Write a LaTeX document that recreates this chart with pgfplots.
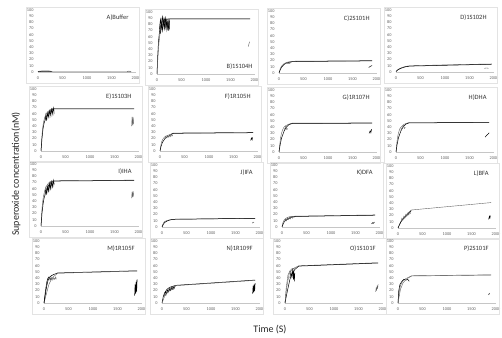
\documentclass[border=0pt]{standalone}
\usepackage{fontspec}
\setmainfont{Carlito}
\usepackage{pgfplots}
\pgfplotsset{compat=1.18}
\pgfplotsset{
  panel/.style={
    scale only axis, width=98pt, height=62pt, anchor=south west,
    xmin=0, xmax=2000, ymin=0, ymax=100,
    xtick={0,500,1000,1500,2000}, ytick={0,10,...,100},
    axis lines=left, axis line style={-},
    x axis line style={gray!45, line width=0.5pt},
    y axis line style={draw=none},
    major tick length=0pt,
    tick label style={font=\fontsize{4.3}{5}\selectfont, text=gray!75!black},
    /pgf/number format/assume math mode=true,
    /pgf/number format/set thousands separator={},
    xticklabel shift=1pt, yticklabel shift=1pt,
    clip=false,
    no markers,
    cycle list={{black!62, line width=0.5pt}},
  },
  band/.style={fill=gray!30, draw=none},
}
\tikzset{lab/.style={font=\fontsize{6.5}{7}\selectfont, text=black!80}}
\newcommand\panel[4]{%
\begin{axis}[panel, at={(#1pt,#2pt)}]
#4
\node[lab, anchor=north east] at (rel axis cs:0.96,0.98) {#3};
\draw[gray!22, line width=0.4pt] ([xshift=-12pt,yshift=-11pt]rel axis cs:0,0) rectangle ([xshift=3pt,yshift=3pt]rel axis cs:1,1);
\end{axis}}
\begin{document}
\begin{tikzpicture}
\path[use as bounding box] (0,0) rectangle (502pt,337pt);
% ---------- Row 1 ----------
\panel{38}{265}{A)Buffer}{
\addplot coordinates {(0,1)(50,1.5)(100,2)(150,2)(200,2)(250,1.5)(300,0.3)(1900,0.3)};
\addplot coordinates {(0,0.5)(100,1)(200,1.2)(280,1)};
\addplot coordinates {(1820,0.5)(1850,1.5)(1880,1)(1900,0.5)};
}
\panel{157}{263}{}{
\addplot[band] coordinates {(50,68)(100,72)(150,72)(200,70)(260,70)(260,88)(200,90)(150,92)(100,92)(50,80)};
\addplot coordinates {(0,0)(15,30)(30,52)(50,68)(75,78)(100,84)(150,87.5)(200,88.5)(280,89)(1900,89)};
\addplot coordinates {(0,0)(20,28)(40,50)(60,64)(80,72)(100,78)(150,85)(200,88)(280,89)(1900,89)};
\addplot coordinates {(50,72)(70,88)(90,78)(110,92)(130,80)(150,88)(170,76)(190,86)(210,74)(230,84)(250,72)(260,86)};
\addplot coordinates {(60,80)(80,70)(100,88)(120,76)(140,90)(160,72)(180,84)(200,70)(220,86)(240,76)(255,80)};
\addplot coordinates {(70,65)(90,82)(110,70)(130,86)(150,74)(170,90)(190,78)(210,84)(230,70)(250,88)};
\addplot coordinates {(1860,44)(1875,48)(1890,52)};
\node[lab, anchor=south east] at (rel axis cs:1.01,0.02) {B)1S104H};
}
\panel{279}{264}{C)2S101H}{
\addplot coordinates {(0,0)(25,7)(50,11)(100,15)(150,17)(200,18)(280,19)(1900,20)};
\addplot coordinates {(0,0)(25,5)(50,9)(100,13.5)(150,16)(200,17)(280,18.5)(1900,19.5)};
\addplot coordinates {(50,10)(100,14)(150,16)(200,15)(250,17)};
\addplot coordinates {(1830,9)(1870,11)(1900,12)};
}
\panel{396}{265}{D)1S102H}{
\addplot coordinates {(0,0)(25,3)(50,4.5)(100,6.5)(150,8)(200,9)(280,10)(1000,11.5)(1950,13)};
\addplot coordinates {(0,1)(50,4)(100,6)(200,8.5)(280,9.5)(1950,12.5)};
\addplot coordinates {(1800,6)(1850,6.5)(1890,6)};
}
% ---------- Row 2 ----------
\panel{41}{186}{E)1S103H}{
\addplot[band] coordinates {(80,48)(270,58)(270,70)(200,68)(100,62)(80,55)};
\addplot[band] coordinates {(1850,40)(1890,42)(1890,55)(1850,55)};
\addplot coordinates {(0,0)(15,20)(30,35)(50,46)(75,54)(100,59)(150,64)(200,67)(270,69)(1900,69)};
\addplot coordinates {(0,0)(20,20)(40,35)(60,44)(100,54)(150,61)(200,65)(270,68)(1900,68)};
\addplot coordinates {(80,50)(100,60)(120,54)(140,63)(160,57)(180,66)(200,60)(220,68)(240,62)(260,70)(270,60)};
\addplot coordinates {(90,56)(110,50)(130,60)(150,55)(170,64)(190,58)(210,67)(230,60)(250,69)(265,64)};
\addplot coordinates {(1850,40)(1860,55)(1870,42)(1880,54)(1890,44)(1870,50)};
}
\panel{160}{186}{F)1R105H}{
\addplot coordinates {(0,0)(15,8)(30,14)(50,18)(75,21)(100,23)(150,25)(200,26.5)(270,29)(1900,30)};
\addplot coordinates {(0,0)(20,7)(50,14)(100,20)(150,23)(200,25)(270,28.5)(1900,29.5)};
\addplot coordinates {(100,20)(120,24)(140,21)(160,25)(180,22)(200,26)(220,23)(240,27)(260,24)};
\addplot coordinates {(1850,17)(1865,21)(1880,18)(1890,22)};
}
\panel{279}{185}{G)1R107H}{
\addplot coordinates {(0,0)(15,12)(30,22)(50,30)(75,36)(100,40)(150,43)(200,45)(270,46.5)(1900,47)};
\addplot coordinates {(0,0)(20,10)(50,22)(100,33)(150,40)(200,44)(270,46)(1900,46.5)};
\addplot coordinates {(100,35)(120,38)(140,42)(150,38)(160,36)(180,38)};
\addplot coordinates {(1840,30)(1860,34)(1875,31)(1890,37)};
}
\panel{396}{185}{H)DHA}{
\addplot coordinates {(0,0)(15,13)(30,23)(50,31)(75,37)(100,40)(150,44)(200,46)(270,47.5)(1900,48)};
\addplot coordinates {(0,0)(20,11)(50,23)(100,34)(150,41)(200,45)(270,47)(1900,47.5)};
\addplot coordinates {(100,36)(130,40)(150,43)(170,38)(190,40)};
\addplot coordinates {(1820,24)(1850,27)(1880,29)(1900,31)};
}
% ---------- Row 3 ----------
\panel{41}{111}{I)IHA}{
\addplot[band] coordinates {(80,48)(270,64)(270,74)(200,72)(100,64)(80,55)};
\addplot[band] coordinates {(1850,45)(1890,47)(1890,56)(1850,55)};
\addplot coordinates {(0,0)(15,22)(30,37)(50,48)(75,57)(100,63)(150,69)(200,72)(270,73)(1900,74)};
\addplot coordinates {(0,0)(20,20)(40,34)(60,44)(100,56)(150,65)(200,70)(270,72.5)(1900,73.5)};
\addplot coordinates {(80,50)(100,62)(120,55)(140,66)(160,58)(180,70)(200,62)(220,72)(240,64)(260,74)(270,66)};
\addplot coordinates {(90,58)(110,52)(130,63)(150,56)(170,68)(190,60)(210,71)(230,63)(250,73)(265,68)};
\addplot coordinates {(1850,45)(1860,55)(1870,47)(1880,56)(1890,48)};
}
\panel{162}{110}{J)IFA}{
\addplot coordinates {(0,0)(15,4)(30,6.5)(50,8.5)(100,10.5)(150,11.5)(200,12)(270,12.5)(1900,14)};
\addplot coordinates {(0,0)(25,4)(50,7)(100,9.5)(150,11)(200,12)(270,12.5)(1900,14)};
\addplot coordinates {(1840,6)(1860,8)(1875,7)};
}
\panel{282}{110}{K)DFA}{
\addplot coordinates {(0,0)(15,6)(30,9)(50,12)(100,15)(150,16.5)(200,17)(270,17.5)(1900,19.5)};
\addplot coordinates {(0,0)(25,5)(50,9)(100,12)(150,14)(200,16)(270,17)(1900,19)};
\addplot coordinates {(50,8)(70,13)(90,10)(110,15)(130,12)(150,16)(170,13)(190,17)(210,14)(230,17)(250,15)};
\addplot coordinates {(1830,5)(1850,7)(1870,6)(1885,8)};
}
\panel{398}{109}{L)BFA}{
\addplot coordinates {(0,0)(25,5)(50,9)(100,15)(150,20)(200,24)(270,29)(1900,41)};
\addplot coordinates {(0,0)(30,5)(60,10)(100,14)(150,18)(200,22)(270,28)};
\addplot coordinates {(60,10)(80,16)(100,13)(120,19)(140,16)(160,22)(180,19)(200,24)(220,21)(240,26)(260,23)};
\addplot coordinates {(1850,14)(1865,19)(1875,16)(1885,20)};
}
% ---------- Row 4 ----------
\panel{44}{34}{M)1R105F}{
\addplot[band] coordinates {(1850,12)(1900,18)(1900,38)(1850,30)};
\addplot coordinates {(0,0)(50,25)(80,36)(100,40)(150,44)(200,46)(280,48.5)(1900,52)};
\addplot coordinates {(0,0)(100,30)(150,38)(200,43)(280,48)(1900,51.5)};
\addplot coordinates {(0,0)(30,20)(60,35)(80,40)(100,42)(130,38)(150,40)};
\addplot coordinates {(100,36)(120,42)(140,37)(160,42)(180,37)(200,41)(220,38)(240,42)(250,38)};
\addplot coordinates {(1850,12)(1860,30)(1870,15)(1880,34)(1890,18)(1900,38)(1875,25)(1855,20)};
}
\panel{162}{34}{N)1R109F}{
\addplot[band] coordinates {(1850,15)(1900,19)(1900,32)(1850,27)};
\addplot coordinates {(0,0)(25,10)(50,16)(100,22)(150,25)(200,26.5)(280,28.5)(1900,37)};
\addplot coordinates {(0,0)(50,10)(100,17)(150,21)(200,24)(280,28)(1900,36.5)};
\addplot coordinates {(50,12)(70,18)(90,15)(110,21)(130,18)(150,23)(170,20)(190,25)(210,22)(230,26)(250,24)(270,27)};
\addplot coordinates {(60,15)(80,12)(100,19)(120,16)(140,22)(160,19)(180,24)(200,21)(220,25)(240,22)(260,26)};
\addplot coordinates {(1850,15)(1860,28)(1870,17)(1880,30)(1890,19)(1900,32)};
}
\panel{285}{34}{O)1S101F}{
\addplot coordinates {(0,0)(30,22)(50,32)(80,45)(100,50)(150,54)(200,57)(280,60)(1900,65)};
\addplot coordinates {(0,0)(50,20)(100,38)(150,48)(200,54)(280,59.5)(1900,64.5)};
\addplot coordinates {(0,0)(25,25)(60,45)(100,52)(150,56)(200,55)};
\addplot coordinates {(100,40)(120,50)(140,42)(160,55)(170,38)(180,52)(190,35)(200,48)};
\addplot coordinates {(1850,18)(1860,24)(1870,21)(1880,27)(1890,24)(1900,30)};
}
\panel{398}{34}{P)2S101F}{
\addplot coordinates {(0,0)(25,18)(50,28)(100,36)(150,39)(200,41)(280,44)(1900,45.5)};
\addplot coordinates {(0,0)(15,20)(40,30)(80,35)(120,38)(160,37)(200,38)(230,35)};
\addplot coordinates {(0,0)(50,22)(100,32)(150,37)(200,40)(280,43.5)(1900,45)};
\addplot coordinates {(1850,13)(1865,16)};
}
\node[rotate=90, font=\fontsize{10}{12}\selectfont, text=black!85] at (16pt,163pt) {Superoxide concentration(nM)};
\node[font=\fontsize{10}{12}\selectfont, text=black!85] at (270pt,7pt) {Time (S)};
\end{tikzpicture}
\end{document}
